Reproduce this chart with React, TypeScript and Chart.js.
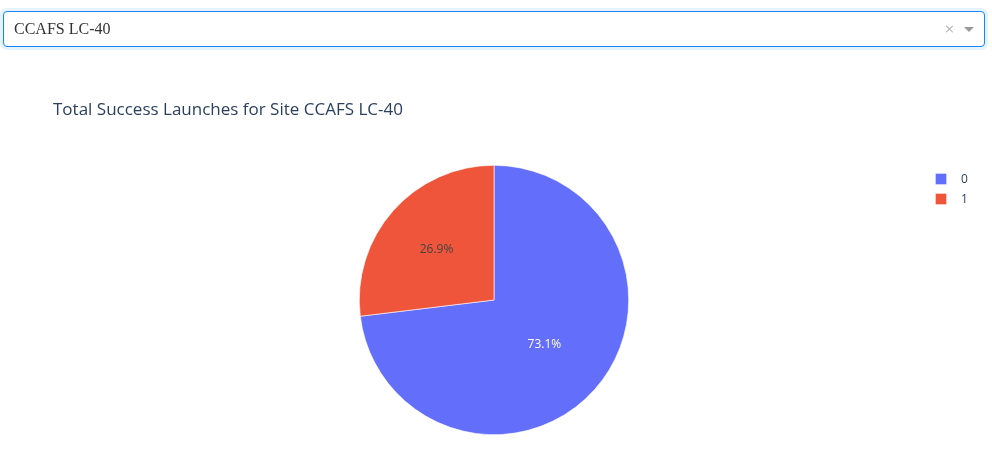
import React, { useEffect, useRef } from "react";
import { Chart, registerables } from "chart.js";

Chart.register(...registerables);

const siteName = "CCAFS LC-40";
const classLabels = ["0", "1"];
const launchCounts = [19, 7];
const sliceColors = ["#636efa", "#EF553B"];
const labelTextColors = ["#ffffff", "#444444"];
const titleText = "Total Success Launches for Site " + siteName;

const FONT = "'Open Sans', 'Noto Sans', sans-serif";

const overlayPlugin = {
  id: "plotlyOverlay",
  afterDatasetsDraw(chart: any) {
    const ctx = chart.ctx;
    const meta = chart.getDatasetMeta(0);
    const total = launchCounts.reduce((a, b) => a + b, 0);
    ctx.save();
    ctx.font = `12px ${FONT}`;
    ctx.textAlign = "center";
    ctx.textBaseline = "middle";
    meta.data.forEach((arc: any, i: number) => {
      const p = arc.getProps(["x", "y", "startAngle", "endAngle", "outerRadius"], true);
      const mid = (p.startAngle + p.endAngle) / 2;
      const frac = launchCounts[i] / total;
      const rr = p.outerRadius * (frac > 0.5 ? 0.5 : 0.57);
      ctx.fillStyle = labelTextColors[i];
      ctx.fillText((frac * 100).toFixed(1) + "%", p.x + Math.cos(mid) * rr, p.y + Math.sin(mid) * rr);
    });
    ctx.restore();
  },
  afterDraw(chart: any) {
    const ctx = chart.ctx;
    ctx.save();
    ctx.fillStyle = "#2a3f5f";
    ctx.font = `17px ${FONT}`;
    ctx.textAlign = "left";
    ctx.textBaseline = "middle";
    ctx.fillText(titleText, 53, 110);
    ctx.font = `12px ${FONT}`;
    classLabels.forEach((lab, i) => {
      const y = 179 + i * 20;
      ctx.fillStyle = sliceColors[i];
      ctx.fillRect(935.5, y - 5.5, 11, 11);
      ctx.strokeStyle = "rgba(255,255,255,0.35)";
      ctx.lineWidth = 1;
      ctx.strokeRect(935.5, y - 5.5, 11, 11);
      ctx.fillStyle = "#2a3f5f";
      ctx.fillText(lab, 961, y + 1);
    });
    ctx.restore();
  },
};

export default function App() {
  const canvasRef = useRef<HTMLCanvasElement | null>(null);

  useEffect(() => {
    if (!canvasRef.current) return;
    const chart = new Chart(canvasRef.current, {
      type: "pie",
      data: {
        labels: classLabels,
        datasets: [
          {
            data: launchCounts,
            backgroundColor: sliceColors,
            borderColor: "#ffffff",
            borderWidth: 0.6,
          },
        ],
      },
      options: {
        animation: false,
        responsive: false,
        maintainAspectRatio: false,
        layout: { padding: { left: 359, right: 363, top: 165, bottom: 21 } },
        plugins: {
          legend: { display: false },
          title: { display: false },
          tooltip: { enabled: false },
        },
      },
      plugins: [overlayPlugin],
    });
    return () => chart.destroy();
  }, []);

  return (
    <div style={{ position: "absolute", left: 0, top: 0, width: 992, height: 456, background: "#fff" }}>
      <canvas ref={canvasRef} width={992} height={456} style={{ position: "absolute", left: 0, top: 0 }} />
      <div
        style={{
          position: "absolute",
          left: 3,
          top: 11,
          width: 982,
          height: 36,
          boxSizing: "border-box",
          border: "1px solid #1a84f0",
          borderRadius: 4,
          boxShadow: "0 0 0 3px rgba(0,126,255,0.1)",
          background: "#fff",
        }}
      >
        <span
          style={{
            position: "absolute",
            left: 10,
            top: 0,
            lineHeight: "34px",
            fontFamily: "'Liberation Serif', 'DejaVu Serif', serif",
            fontSize: 16,
            color: "#333",
          }}
        >
          {siteName}
        </span>
        <span
          style={{
            position: "absolute",
            right: 29,
            top: 0,
            lineHeight: "34px",
            fontFamily: "'DejaVu Sans', sans-serif",
            fontSize: 13,
            color: "#b3b3b3",
          }}
        >
          ×
        </span>
        <span
          style={{
            position: "absolute",
            right: 10,
            top: 15,
            width: 0,
            height: 0,
            borderTop: "5px solid #999",
            borderLeft: "5px solid transparent",
            borderRight: "5px solid transparent",
          }}
        />
      </div>
    </div>
  );
}
